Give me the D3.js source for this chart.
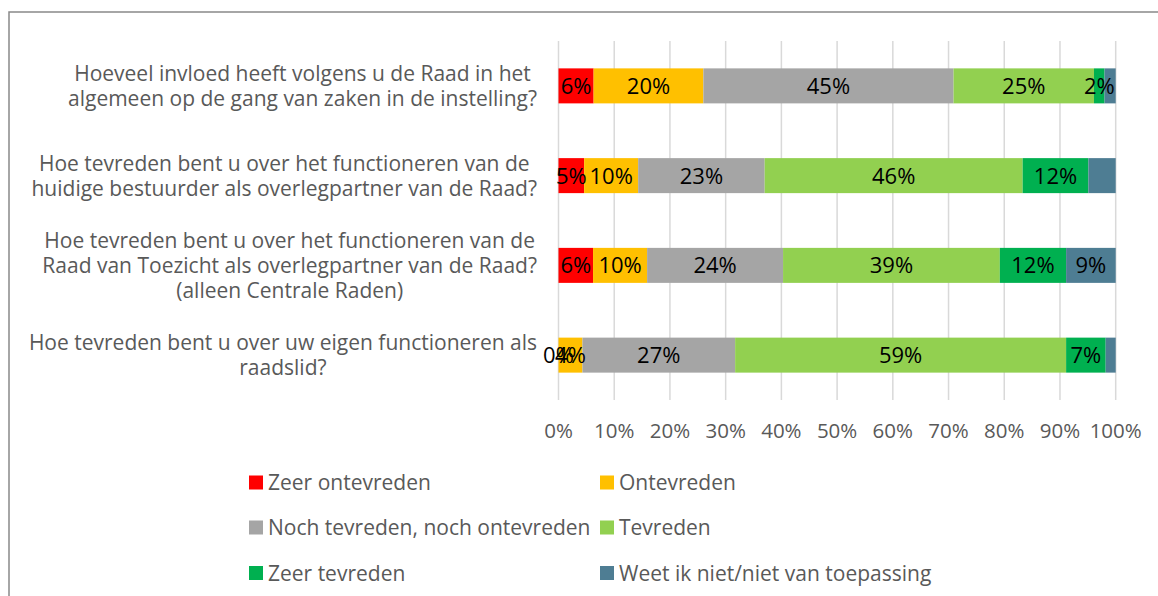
<!DOCTYPE html>
<html lang="nl">
<head>
<meta charset="UTF-8">
<title>Raad enquête</title>
<script src="https://cdnjs.cloudflare.com/ajax/libs/d3/7.8.5/d3.min.js"></script>
<style>
  body { margin: 0; background: #fff; }
  svg { display: block; font-family: "Open Sans", Lato, sans-serif; }
  .cat { fill: #595959; font-size: 21px; }
  .tick-label { fill: #595959; font-size: 20.5px; }
  .val { fill: #000; font-size: 22px; }
  .leg { fill: #595959; font-size: 21px; }
</style>
</head>
<body>
<div id="chart"></div>
<script>
// questions (each entry = the lines as wrapped in the picture)
const questions = [
  ["Hoeveel invloed heeft volgens u de Raad in het", "algemeen op de gang van zaken in de instelling?"],
  ["Hoe tevreden bent u over het functioneren van de", "huidige bestuurder als overlegpartner van de Raad?"],
  ["Hoe tevreden bent u over het functioneren van de", "Raad van Toezicht als overlegpartner van de Raad?", "(alleen Centrale Raden)"],
  ["Hoe tevreden bent u over uw eigen functioneren als", "raadslid?"]
];

const answers = ["Zeer ontevreden", "Ontevreden", "Noch tevreden, noch ontevreden",
                 "Tevreden", "Zeer tevreden", "Weet ik niet/niet van toepassing"];
const colors = ["#FF0000", "#FFC000", "#A5A5A5", "#92D050", "#00B050", "#4E7D93"];

// percentages per question, one entry per answer
const zeerOntevreden = [6.3, 4.6, 6.2, 0];
const ontevreden     = [19.7, 9.7, 9.7, 4.3];
const neutraal       = [44.9, 22.7, 24.4, 27.4];
const tevreden       = [25.2, 46.3, 38.9, 59.4];
const zeerTevreden   = [1.9, 11.8, 11.9, 7.1];
const weetNiet       = [2.0, 4.9, 8.9, 1.8];
const series = [zeerOntevreden, ontevreden, neutraal, tevreden, zeerTevreden, weetNiet];

// data labels that the original leaves out: [question, answer]
const hiddenLabels = [[0, 5], [1, 5], [3, 5]];

const xTicks = [0, 10, 20, 30, 40, 50, 60, 70, 80, 90, 100];

const W = 1158, H = 596;
const svg = d3.select("#chart").append("svg").attr("width", W).attr("height", H);

// outer chart frame (runs off the right and bottom edge)
svg.append("rect")
  .attr("x", 9).attr("y", 12).attr("width", W + 20).attr("height", H + 20)
  .attr("fill", "none").attr("stroke", "#898989").attr("stroke-width", 1.5);

const x = d3.scaleLinear().domain([0, 100]).range([558.5, 1115.7]);
const y = d3.scaleBand().domain(d3.range(questions.length)).range([41, 400]).paddingInner(0.61).paddingOuter(0.305);

// gridlines
svg.append("g").selectAll("line").data(xTicks).join("line")
  .attr("x1", d => x(d)).attr("x2", d => x(d))
  .attr("y1", 41).attr("y2", 400)
  .attr("stroke", "#D9D9D9").attr("stroke-width", 1.5);

// stacked data
const rows = questions.map((q, i) => {
  let acc = 0;
  return series.map((s, j) => {
    const seg = { q: i, a: j, x0: acc, x1: acc + s[i], v: s[i] };
    acc += s[i];
    return seg;
  });
});
const segs = rows.flat();

svg.append("g").selectAll("rect").data(segs).join("rect")
  .attr("x", d => x(d.x0))
  .attr("width", d => x(d.x1) - x(d.x0))
  .attr("y", d => y(d.q))
  .attr("height", y.bandwidth())
  .attr("fill", d => colors[d.a]);

const isHidden = d => hiddenLabels.some(h => h[0] === d.q && h[1] === d.a);
svg.append("g").selectAll("text").data(segs.filter(d => !isHidden(d))).join("text")
  .attr("class", "val")
  .attr("x", d => (x(d.x0) + x(d.x1)) / 2)
  .attr("y", d => y(d.q) + y.bandwidth() / 2)
  .attr("dy", "0.36em")
  .attr("text-anchor", "middle")
  .text(d => Math.round(d.v) + "%");

// x tick labels
svg.append("g").selectAll("text").data(xTicks).join("text")
  .attr("class", "tick-label")
  .attr("x", d => x(d)).attr("y", 438)
  .attr("text-anchor", "middle")
  .text(d => d + "%");

// category labels: lines centred on each other, block right-aligned
const lineH = 25;
const catG = svg.append("g");
questions.forEach((lines, i) => {
  const t = catG.append("text").attr("class", "cat").attr("text-anchor", "middle");
  const cy = y(i) + y.bandwidth() / 2;
  const spans = lines.map((l, k) => t.append("tspan")
    .attr("y", cy + (k - (lines.length - 1) / 2) * lineH)
    .attr("dy", "0.36em")
    .text(l));
  const maxW = d3.max(spans, s => s.node().getComputedTextLength());
  spans.forEach(s => s.attr("x", 537 - maxW / 2));
});

// legend, two columns
const legX = [249, 600], legY = [482.5, 527.5, 573];
const leg = svg.append("g").selectAll("g").data(answers).join("g")
  .attr("transform", (d, i) => `translate(${legX[i % 2]},${legY[Math.floor(i / 2)]})`);
leg.append("rect").attr("x", 0).attr("y", -7).attr("width", 14).attr("height", 14)
  .attr("fill", (d, i) => colors[i]);
leg.append("text").attr("class", "leg").attr("x", 19).attr("dy", "0.36em").text(d => d);
</script>
</body>
</html>
